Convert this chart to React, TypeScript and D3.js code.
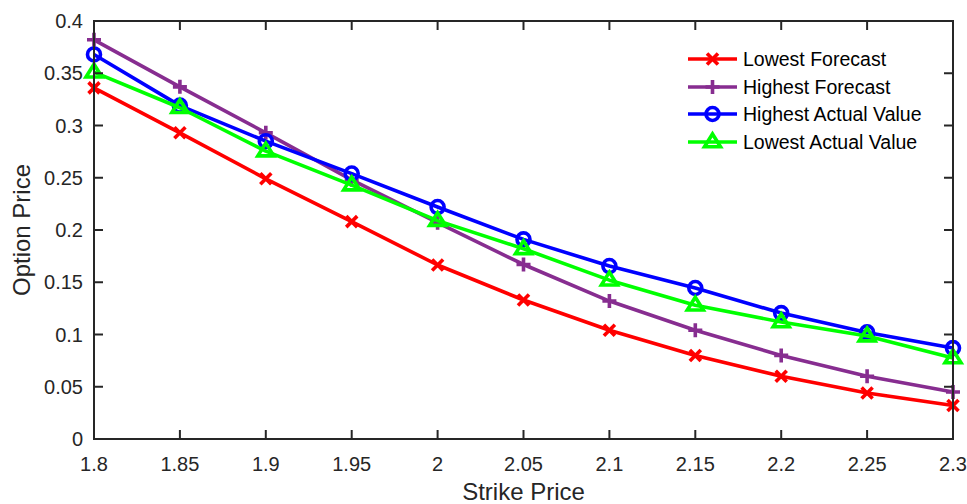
import React from "react";
import * as d3 from "d3";

const strikes = [1.8, 1.85, 1.9, 1.95, 2.0, 2.05, 2.1, 2.15, 2.2, 2.25, 2.3];
const lowestForecast = [0.336, 0.293, 0.249, 0.208, 0.1665, 0.133, 0.104, 0.08, 0.06, 0.044, 0.032];
const highestForecast = [0.382, 0.337, 0.293, 0.248, 0.207, 0.167, 0.132, 0.104, 0.08, 0.06, 0.045];
const highestActual = [0.368, 0.319, 0.285, 0.254, 0.222, 0.191, 0.1655, 0.1445, 0.1205, 0.102, 0.087];
const lowestActual = [0.351, 0.317, 0.2755, 0.243, 0.209, 0.182, 0.152, 0.128, 0.112, 0.0985, 0.0775];
const xTicks = [1.8, 1.85, 1.9, 1.95, 2.0, 2.05, 2.1, 2.15, 2.2, 2.25, 2.3];
const yTicks = [0, 0.05, 0.1, 0.15, 0.2, 0.25, 0.3, 0.35, 0.4];

type Marker = "x" | "plus" | "circle" | "triangle";
const series: { name: string; values: number[]; color: string; marker: Marker }[] = [
  { name: "Lowest Forecast", values: lowestForecast, color: "#ff0000", marker: "x" },
  { name: "Highest Forecast", values: highestForecast, color: "#872d90", marker: "plus" },
  { name: "Highest Actual Value", values: highestActual, color: "#0000ff", marker: "circle" },
  { name: "Lowest Actual Value", values: lowestActual, color: "#00ff00", marker: "triangle" },
];

const W = 967, H = 504;
const L = 94, R = 953, T = 21, B = 439;
const FONT = "'Liberation Sans', Arial, sans-serif";
const AXIS = "#262626";
const LW = 3.6;

function MarkerShape({ m, x, y, color }: { m: Marker; x: number; y: number; color: string }) {
  const sw = LW;
  if (m === "x") {
    const s = 5.5;
    return (
      <path d={`M${x - s},${y - s}L${x + s},${y + s}M${x - s},${y + s}L${x + s},${y - s}`} stroke={color} strokeWidth={sw} fill="none" />
    );
  }
  if (m === "plus") {
    const s = 7;
    return <path d={`M${x - s},${y}L${x + s},${y}M${x},${y - s}L${x},${y + s}`} stroke={color} strokeWidth={sw} fill="none" />;
  }
  if (m === "circle") {
    return <circle cx={x} cy={y} r={6.5} stroke={color} strokeWidth={sw} fill="none" />;
  }
  const s = 8;
  return (
    <path d={`M${x},${y - s}L${x + s},${y + s * 0.6}L${x - s},${y + s * 0.6}Z`} stroke={color} strokeWidth={sw} fill="none" strokeLinejoin="miter" />
  );
}

export default function App() {
  const x = d3.scaleLinear().domain([1.8, 2.3]).range([L, R]);
  const y = d3.scaleLinear().domain([0, 0.4]).range([B, T]);
  const line = d3.line<number>().x((_, i) => x(strikes[i])).y((d) => y(d));
  const fmt = (v: number) => d3.format("")(+v.toFixed(2));
  const tickLen = 9;
  const legendY = [59, 87, 114, 142];

  return (
    <div>
      <style>{`body{margin:0}`}</style>
      <svg width={W} height={H} style={{ display: "block", background: "#fff" }} fontFamily={FONT}>
        <rect x={0} y={0} width={W} height={H} fill="#fff" />
        {series.map((s) => (
          <g key={s.name}>
            <path d={line(s.values) || ""} fill="none" stroke={s.color} strokeWidth={LW} strokeLinejoin="round" />
            {s.values.map((v, i) => (
              <MarkerShape key={i} m={s.marker} x={x(strikes[i])} y={y(v)} color={s.color} />
            ))}
          </g>
        ))}
        {/* axes box */}
        <rect x={L} y={T} width={R - L} height={B - T} fill="none" stroke={AXIS} strokeWidth={2} />
        {xTicks.map((t) => (
          <g key={"x" + t}>
            <line x1={x(t)} x2={x(t)} y1={B} y2={B - tickLen} stroke={AXIS} strokeWidth={2} />
            <line x1={x(t)} x2={x(t)} y1={T} y2={T + tickLen} stroke={AXIS} strokeWidth={2} />
            <text x={x(t)} y={471} textAnchor="middle" fontSize={20} fill={AXIS}>{fmt(t)}</text>
          </g>
        ))}
        {yTicks.map((t) => (
          <g key={"y" + t}>
            <line x1={L} x2={L + tickLen} y1={y(t)} y2={y(t)} stroke={AXIS} strokeWidth={2} />
            <line x1={R} x2={R - tickLen} y1={y(t)} y2={y(t)} stroke={AXIS} strokeWidth={2} />
            <text x={83} y={y(t) + 7} textAnchor="end" fontSize={20} fill={AXIS}>{fmt(t)}</text>
          </g>
        ))}
        <text x={(L + R) / 2} y={500} textAnchor="middle" fontSize={24} fill={AXIS}>Strike Price</text>
        <text transform={`translate(30,${(T + B) / 2}) rotate(-90)`} textAnchor="middle" fontSize={24} fill={AXIS}>Option Price</text>
        {/* legend */}
        {series.map((s, i) => (
          <g key={"lg" + s.name}>
            <line x1={688} x2={737} y1={legendY[i]} y2={legendY[i]} stroke={s.color} strokeWidth={LW} />
            <MarkerShape m={s.marker} x={712.5} y={legendY[i]} color={s.color} />
            <text x={743} y={legendY[i] + 7} fontSize={19.5} fill="#000">{s.name}</text>
          </g>
        ))}
      </svg>
    </div>
  );
}
